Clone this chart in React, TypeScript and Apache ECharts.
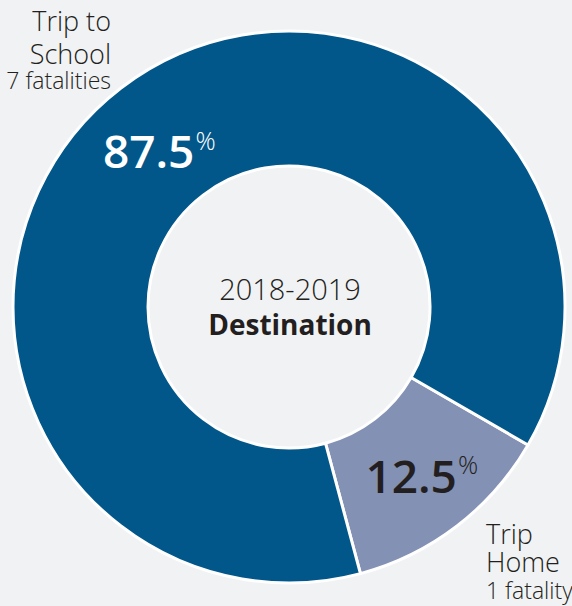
import React, { useEffect, useRef } from "react";
import * as echarts from "echarts";

const categories = ["Trip Home", "Trip to School"];
const fatalities = [1, 7];
const categoryLines = ["Trip\nHome", "Trip to\nSchool"];
const fatalityLabels = ["1 fatality", "7 fatalities"];
const titleLine1 = "2018-2019";
const titleLine2 = "Destination";

const BG = "#f1f2f4";
const DARK = "#231f20";
const FONT = "'Open Sans', 'Noto Sans', sans-serif";

export default function App() {
  const ref = useRef<HTMLDivElement>(null);
  useEffect(() => {
    document.body.style.margin = "0";
    document.body.style.background = BG;
    const chart = echarts.init(ref.current!, null, { renderer: "svg" });
    const colors = ["#8391b4", "#02578a"];
    const labelColors = [DARK, "#ffffff"];
    const labelOffsets = [[4, 0], [-1, 11]];
    chart.setOption({
      animation: false,
      backgroundColor: BG,
      series: [
        {
          type: "pie",
          center: [289, 307],
          radius: [141, 276],
          startAngle: -30,
          clockwise: true,
          silent: true,
          itemStyle: { borderColor: "#ffffff", borderWidth: 3 },
          labelLine: { show: false },
          data: categories.map((c, i) => ({
            name: c,
            value: fatalities[i],
            itemStyle: { color: colors[i] },
            label: {
              show: true,
              position: "inside",
              offset: labelOffsets[i],
              formatter: (p: any) => `{v|${p.percent}}{p|%}`,
              rich: {
                v: {
                  fontFamily: FONT,
                  fontSize: 46,
                  fontWeight: 600,
                  lineHeight: 46,
                  color: labelColors[i],
                },
                p: {
                  fontFamily: FONT,
                  fontSize: 25,
                  fontWeight: 300,
                  lineHeight: 28,
                  verticalAlign: "top",
                  color: labelColors[i],
                  padding: [0, 0, 0, 1],
                },
              },
            },
          })),
        },
      ],
      graphic: [
        { type: "text", x: 290, y: 288, style: { text: titleLine1, fontFamily: FONT, fontSize: 29, fontWeight: 300, fill: DARK, align: "center", verticalAlign: "middle" } },
        { type: "text", x: 290, y: 324, style: { text: titleLine2, fontFamily: FONT, fontSize: 28, fontWeight: 700, fill: DARK, align: "center", verticalAlign: "middle" } },
        { type: "text", x: 111, y: 36.5, style: { text: categoryLines[1], fontFamily: FONT, fontSize: 27, lineHeight: 33, fontWeight: 300, fill: DARK, align: "right", verticalAlign: "middle" } },
        { type: "text", x: 111, y: 80, style: { text: fatalityLabels[1], fontFamily: FONT, fontSize: 23, fontWeight: 300, fill: DARK, align: "right", verticalAlign: "middle" } },
        { type: "text", x: 486, y: 547, style: { text: categoryLines[0], fontFamily: FONT, fontSize: 27, lineHeight: 28, fontWeight: 300, fill: DARK, align: "left", verticalAlign: "middle" } },
        { type: "text", x: 486, y: 590, style: { text: fatalityLabels[0], fontFamily: FONT, fontSize: 23, fontWeight: 300, fill: DARK, align: "left", verticalAlign: "middle" } },
      ],
    });
    return () => chart.dispose();
  }, []);
  return <div ref={ref} style={{ width: 572, height: 606 }} />;
}
